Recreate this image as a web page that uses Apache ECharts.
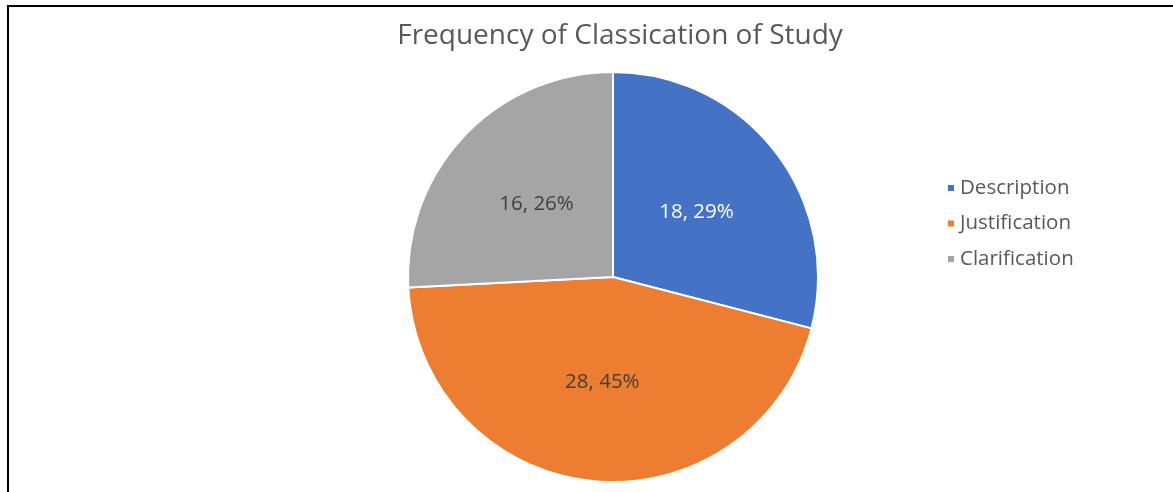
<!DOCTYPE html>
<html lang="en">
<head>
    <meta charset="UTF-8">
    <title>Frequency of Classication of Study</title>
    <script src="https://cdn.jsdelivr.net/npm/echarts@6/dist/echarts.min.js"></script>
    <style>
        html, body { margin: 0; padding: 0; background: #fff; overflow: hidden; }
        #frame {
            position: absolute; left: 7px; top: 5px; width: 1180px; height: 500px;
            border-top: 2px solid #000; border-left: 2px solid #000;
        }
        #main { position: absolute; left: 0; top: 0; width: 1173px; height: 492px; }
    </style>
</head>
<body>
<div id="main"></div>
<div id="frame"></div>
<script type="text/javascript">
    // data
    var categories = ['Description', 'Justification', 'Clarification'];
    var counts = [18, 28, 16];
    var colors = ['#4472C4', '#ED7D31', '#A5A5A5'];
    var labelColors = ['#ffffff', '#404040', '#404040'];

    var pieData = [];
    for (var i = 0; i < categories.length; i++) {
        pieData.push({
            name: categories[i],
            value: counts[i],
            itemStyle: { color: colors[i] },
            label: { color: labelColors[i] }
        });
    }

    var myChart = echarts.init(document.getElementById('main'));

    var option = {
        backgroundColor: '#fff',
        animation: false,
        title: {
            text: 'Frequency of Classication of Study',
            left: 615,
            top: 17,
            textAlign: 'center',
            textStyle: {
                fontFamily: 'Open Sans',
                fontWeight: 'normal',
                fontSize: 28,
                color: '#595959'
            }
        },
        legend: {
            orient: 'vertical',
            left: 941,
            top: 172,
            icon: 'rect',
            itemWidth: 8,
            itemHeight: 8,
            itemGap: 13.5,
            data: categories,
            textStyle: {
                fontFamily: 'Open Sans',
                fontSize: 20.5,
                lineHeight: 22,
                color: '#595959'
            }
        },
        series: [{
            name: 'Classication',
            type: 'pie',
            center: [613, 277],
            radius: [0, 205],
            startAngle: 90,
            clockwise: true,
            percentPrecision: 0,
            itemStyle: { borderColor: '#fff', borderWidth: 2 },
            label: {
                show: true,
                position: 'inside',
                formatter: '{c}, {d}%',
                fontFamily: 'Open Sans',
                fontSize: 20.5
            },
            labelLine: { show: false },
            emphasis: { scale: false },
            data: pieData
        }]
    };

    myChart.setOption(option);
</script>
</body>
</html>
